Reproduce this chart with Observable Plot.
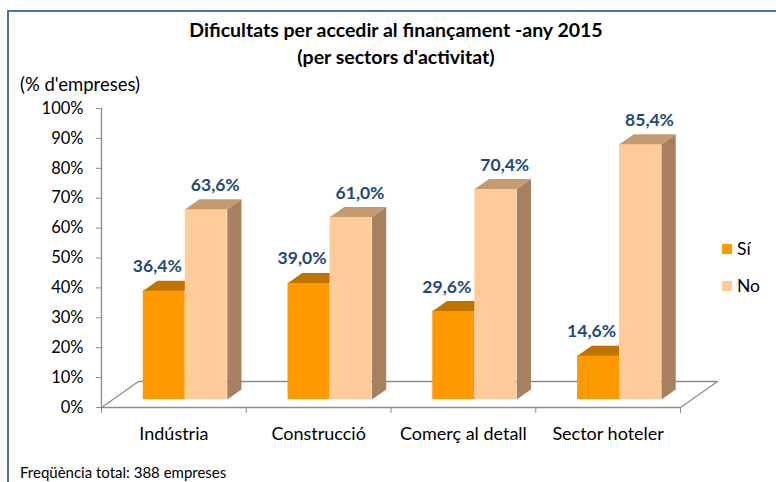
<!DOCTYPE html>
<html>
<head>
<meta charset="utf-8">
<script src="https://cdn.jsdelivr.net/npm/d3@7"></script>
<script src="https://cdn.jsdelivr.net/npm/@observablehq/plot@0.6"></script>
<style>
  body { margin: 0; background: #fff; }
  #wrap { position: relative; width: 776px; height: 482px; overflow: hidden; background: #fff; font-family: Lato, "Open Sans", sans-serif; color: #000; }
  #frame { position: absolute; left: 7px; top: 10px; width: 800px; height: 600px; border-left: 2px solid #4A72A6; border-top: 2px solid #4A72A6; }
  .t { position: absolute; white-space: nowrap; }
  #title { left: 0; width: 792px; text-align: center; top: 16px; font-weight: bold; font-size: 19.5px; line-height: 27px; }
  #ylab { left: 20px; top: 73px; font-size: 18.5px; }
  #foot { left: 20px; top: 463px; font-size: 15px; }
  .lg { position: absolute; left: 722px; width: 10px; height: 10px; }
  .lgt { position: absolute; left: 737px; font-size: 17.5px; line-height: 20px; }
  #chart { position: absolute; left: 0; top: 0; }
</style>
</head>
<body>
<div id="wrap">
  <div id="frame"></div>
  <div id="chart"></div>
  <div class="t" id="title">Dificultats per accedir al finançament -any 2015<br>(per sectors d'activitat)</div>
  <div class="t" id="ylab">(% d'empreses)</div>
  <div class="lg" style="top:244px;background:#FF9900"></div>
  <div class="lgt" style="top:239px">Sí</div>
  <div class="lg" style="top:281px;background:#FFCC99"></div>
  <div class="lgt" style="top:276px">No</div>
  <div class="t" id="foot">Freqüència total: 388 empreses</div>
</div>
<script>
const categories = ["Indústria", "Construcció", "Comerç al detall", "Sector hoteler"];
const series = ["Sí", "No"];
const valuesSi = [36.4, 39.0, 29.6, 14.6];
const valuesNo = [63.6, 61.0, 70.4, 85.4];
const yTicks = [0, 10, 20, 30, 40, 50, 60, 70, 80, 90, 100];

// layout (pixels)
const W = 776, H = 482;
const mL = 101, mR = 96, mT = 108, mB = 75;
const kx = categories.length / (W - mL - mR); // x units per px
const ky = 100 / (H - mT - mB);               // y units per px
const barW = 0.29;                            // width of a bar, in category units
const frontDx = 11.4, frontDy = -8;           // bar front plane offset (px)
const depthX = 14.2 * kx, depthY = 10 * ky;   // bar depth (data units)
const floorX = 37 * kx, floorY = 26 * ky;     // floor depth (data units)

const colors = {
  "Sí": {front: "#FF9900", top: "#BF7300", side: "#A86600"},
  "No": {front: "#FFCC99", top: "#C49B70", side: "#A6805F"}
};

const bars = [];
categories.forEach((c, i) => {
  bars.push({cat: c, s: "Sí", v: valuesSi[i], x1: i + 0.5 - barW, x2: i + 0.5});
  bars.push({cat: c, s: "No", v: valuesNo[i], x1: i + 0.5, x2: i + 0.5 + barW});
});

function topFace(b) {
  return [
    {id: b.cat + b.s, x: b.x1, y: b.v},
    {id: b.cat + b.s, x: b.x2, y: b.v},
    {id: b.cat + b.s, x: b.x2 + depthX, y: b.v + depthY},
    {id: b.cat + b.s, x: b.x1 + depthX, y: b.v + depthY}
  ];
}
function sideFace(b) {
  return [
    {id: b.cat + b.s, x: b.x2, y: 0},
    {id: b.cat + b.s, x: b.x2, y: b.v},
    {id: b.cat + b.s, x: b.x2 + depthX, y: b.v + depthY},
    {id: b.cat + b.s, x: b.x2 + depthX, y: depthY}
  ];
}

const n = categories.length;
const floor = [
  {x: 0, y: 0}, {x: floorX, y: floorY}, {x: n + floorX, y: floorY}, {x: n, y: 0}
];

const fmt = v => d3.format(".1f")(v).replace(".", ",") + "%";

const marks = [
  Plot.line(floor, {x: "x", y: "y", stroke: "#8C8C8C", strokeWidth: 1.3})
];
for (const s of series) {
  const bs = bars.filter(b => b.s === s);
  marks.push(
    Plot.rect(bs, {x1: "x1", x2: "x2", y1: 0, y2: "v", fill: colors[s].front, dx: frontDx, dy: frontDy}),
    Plot.line(bs.flatMap(sideFace), {x: "x", y: "y", z: "id", fill: colors[s].side, stroke: "none", dx: frontDx, dy: frontDy}),
    Plot.line(bs.flatMap(topFace), {x: "x", y: "y", z: "id", fill: colors[s].top, stroke: "none", dx: frontDx, dy: frontDy})
  );
}
const labelNudge = {"Sí": -7, "No": 9};
marks.push(
  Plot.ruleX([0], {stroke: "#8C8C8C", strokeWidth: 1.3}),
  Plot.ruleY([0], {stroke: "#8C8C8C", strokeWidth: 1.3}),
  Plot.axisY({ticks: yTicks, tickFormat: d => d + "%", tickSize: 5, tickPadding: 13, stroke: "#8C8C8C", fill: "#000", fontSize: 16.5}),
  Plot.axisX({ticks: d3.range(n + 1), tickFormat: () => "", tickSize: 6, stroke: "#8C8C8C"}),
  Plot.text(categories, {x: (d, i) => i + 0.5, y: 0, text: d => d, dy: 27, fontSize: 18, fill: "#000", lineAnchor: "middle"})
);
for (const s of series) {
  marks.push(Plot.text(bars.filter(b => b.s === s), {
    x: b => (b.x1 + b.x2) / 2, y: "v", text: b => fmt(b.v),
    dx: frontDx + labelNudge[s], dy: frontDy - 24, lineAnchor: "middle",
    fontSize: 17.5, fontWeight: "bold", fill: "#1F497D"
  }));
}

const chart = Plot.plot({
  width: W, height: H,
  marginLeft: mL, marginRight: mR, marginTop: mT, marginBottom: mB,
  style: {fontFamily: "Lato, 'Open Sans', sans-serif", background: "transparent", overflow: "visible"},
  x: {domain: [0, n], axis: null},
  y: {domain: [0, 100], axis: null},
  marks
});
document.getElementById("chart").appendChild(chart);
</script>
</body>
</html>
